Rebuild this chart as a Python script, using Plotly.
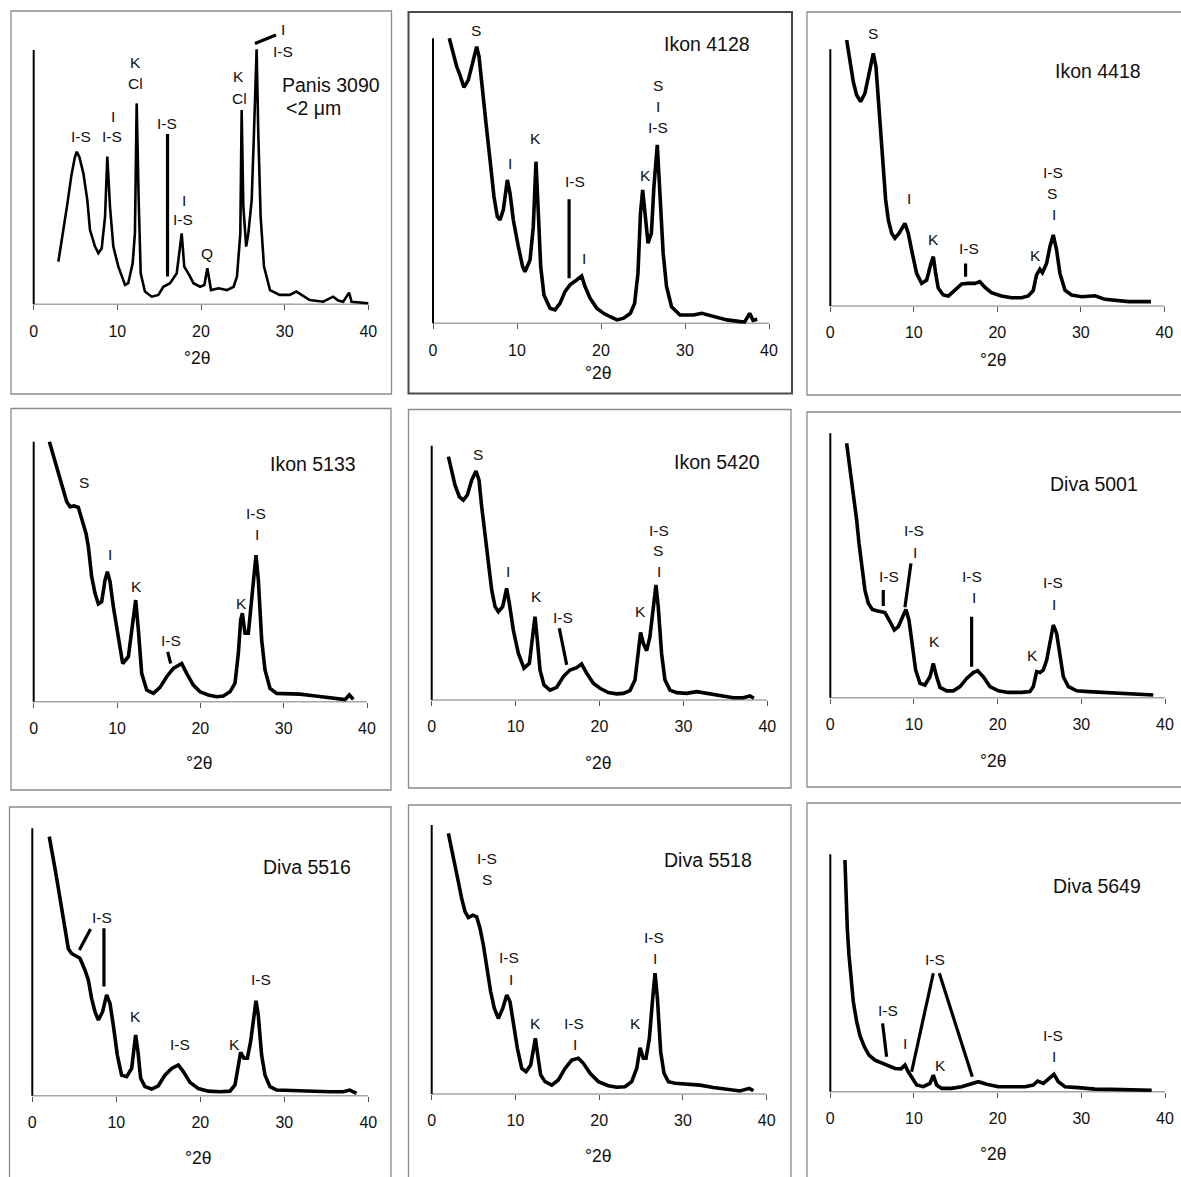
import plotly.graph_objects as go

# ---------------- data (relative intensity, 100 = top of the intensity axis) ----------------
tick_vals = [0, 10, 20, 30, 40]
tick_text = ["0", "10", "20", "30", "40"]
axis_title = "°2θ"

sample_names = ["Panis 3090", "Ikon 4128", "Ikon 4418", "Ikon 5133", "Ikon 5420",
                "Diva 5001", "Diva 5516", "Diva 5518", "Diva 5649"]
fraction_note = "<2 μm"

p1_x = [2.95, 3.55, 4.0, 4.5, 4.9, 5.14, 5.45, 5.94, 6.41, 6.73, 7.33, 7.73, 8.13, 8.53, 8.80, 9.12, 9.52, 10.12, 10.92,
        11.3, 11.83, 12.1, 12.31, 12.55, 12.79, 13.3, 14.1, 14.9, 15.5, 16.3, 17.1, 17.69, 18.0, 18.6, 19.1,
        19.9, 20.4, 20.76, 21.2, 22.1, 23.1, 23.9, 24.3, 24.7, 24.86, 25.06, 25.4, 25.66, 26.06, 26.33,
        26.65, 26.85, 27.13, 27.53, 28.25, 29.4, 30.6, 31.4, 32.0, 33.0, 34.6, 35.8, 36.4, 37.0, 37.7,
        38.0, 40.0]
p1_y = [16.8, 29.0, 39.0, 50.5, 57.5, 60.0, 58.0, 51.5, 41.0, 29.2, 22.7, 20.1, 22.0, 34.5, 58.1, 38.4, 22.7, 14.8, 7.6,
        8.3, 16.1, 27.9, 79.0, 41.0, 12.2, 5.0, 3.0, 3.7, 6.9, 8.3, 12.2, 27.9, 14.8, 11.5, 8.3,
        6.9, 7.6, 14.2, 5.6, 6.3, 5.6, 6.9, 10.9, 27.9, 76.4, 38.4, 22.7, 27.9, 41.0, 67.2,
        100.3, 67.2, 34.5, 14.8, 5.6, 3.7, 3.7, 5.0, 3.7, 1.7, 1.0, 3.0, 1.5, 1.0, 4.6,
        1.0, 0.4]

p2_x = [1.94, 2.42, 2.82, 3.21, 3.69, 4.21, 4.72, 5.2, 5.48, 5.79, 6.31, 6.79, 7.26, 7.66, 7.98, 8.37,
        8.85, 9.17, 9.56, 10.16, 10.67, 10.95, 11.55, 11.94, 12.26, 12.54, 12.82, 13.21, 13.93, 14.52,
        15.12, 15.71, 16.31, 17.1, 17.7, 18.1, 18.7, 19.5, 20.3, 21.1, 21.9, 22.7, 23.5, 24.0, 24.4,
        24.7, 24.96, 25.24, 25.6, 26.0, 26.3, 26.7, 27.0, 27.4, 27.8, 28.4, 29.4, 31.0, 32.0, 33.4,
        35.0, 36.6, 37.1, 37.7, 38.1, 38.6]
p2_y = [100.0, 94.7, 90.1, 87.1, 82.8, 85.4, 91.2, 97.1, 93.6, 84.2, 70.2, 57.3, 44.4, 37.4, 36.3, 39.8,
        50.3, 45.6, 36.3, 26.9, 19.9, 18.1, 22.2, 33.9, 56.7, 38.6, 19.9, 9.9, 5.3, 4.7,
        7.0, 11.1, 13.5, 15.2, 16.6, 12.9, 8.8, 5.3, 3.5, 2.3, 1.2, 1.8, 3.5, 7.0, 17.5,
        38.6, 46.8, 38.6, 28.1, 31.6, 48.0, 62.6, 48.0, 24.6, 12.9, 5.8, 2.9, 2.9, 3.5, 2.3,
        1.2, 0.6, 0.5, 3.5, 1.0, 1.4]

p3_x = [1.96, 2.36, 2.75, 3.15, 3.63, 4.15, 4.63, 5.15, 5.47, 5.75, 6.07, 6.35, 6.63, 6.95, 7.35, 7.74,
        8.22, 8.94, 9.34, 9.82, 10.34, 10.94, 11.54, 12.06, 12.34, 12.62, 12.93, 13.53, 14.13, 14.93,
        15.73, 16.53, 17.33, 17.9, 18.5, 19.3, 20.5, 21.7, 22.9, 23.7, 24.3, 24.7, 25.1, 25.4, 25.9,
        26.3, 26.7, 27.1, 27.5, 28.1, 28.9, 30.1, 31.7, 32.9, 34.1, 35.7, 37.3, 38.4]
p3_y = [103.6, 94.5, 87.4, 82.2, 79.6, 82.9, 90.6, 98.4, 93.2, 81.6, 67.3, 54.3, 41.3, 33.5, 28.3, 26.4,
        28.3, 32.2, 28.3, 20.5, 12.7, 8.8, 10.1, 16.6, 19.2, 12.7, 6.9, 4.3, 3.9, 6.2,
        8.6, 8.8, 8.8, 9.5, 7.3, 5.2, 3.9, 3.2, 3.2, 3.9, 6.0, 12.1, 14.3, 13.0, 16.6,
        23.1, 27.7, 21.8, 12.7, 6.2, 4.3, 3.6, 4.0, 2.6, 2.1, 1.7, 1.7, 1.7]

p4_x = [1.88, 2.36, 2.96, 3.56, 3.96, 4.36, 4.84, 5.36, 5.76, 6.28, 6.56, 6.96, 7.36, 7.76, 8.16, 8.56,
        8.84, 9.16, 9.56, 10.16, 10.68, 11.36, 11.88, 12.24, 12.56, 12.96, 13.56, 14.36, 15.16, 15.96,
        16.76, 17.76, 18.36, 19.16, 19.96, 20.96, 21.96, 22.76, 23.56, 24.16, 24.56, 24.84, 25.04,
        25.36, 25.76, 26.16, 26.44, 26.68, 26.96, 27.36, 27.76, 28.36, 29.16, 30.76, 31.96, 33.56,
        35.16, 36.76, 37.36, 37.88, 38.36]
p4_y = [100.0, 94.9, 88.5, 81.4, 76.9, 75.0, 75.3, 74.7, 69.9, 64.7, 59.6, 48.1, 41.7, 37.6, 38.5, 46.8,
        50.0, 46.2, 36.5, 23.7, 14.7, 17.3, 28.8, 39.1, 27.6, 10.9, 4.5, 3.2, 5.5, 9.6,
        12.8, 14.7, 10.9, 6.4, 3.8, 2.6, 1.9, 2.2, 3.8, 7.1, 18.6, 31.4, 34.0,
        26.3, 26.3, 39.1, 49.4, 56.4, 46.8, 23.7, 12.2, 5.1, 3.2, 3.2, 2.9, 2.3,
        1.7, 0.9, 0.8, 2.6, 0.9]

p5_x = [1.99, 2.38, 2.78, 3.3, 3.77, 4.25, 4.77, 5.28, 5.64, 5.96, 6.35, 6.75, 7.15, 7.55, 7.94, 8.46,
        8.93, 9.25, 9.73, 10.33, 11.0, 11.64, 12.03, 12.31, 12.59, 12.91, 13.38, 14.1, 14.9, 15.7,
        16.48, 17.28, 17.87, 18.47, 19.26, 20.06, 21.05, 22.04, 22.84, 23.63, 24.23, 24.63, 24.9,
        25.22, 25.62, 26.01, 26.41, 26.73, 27.0, 27.4, 27.8, 28.4, 29.19, 30.38, 31.58, 32.77,
        34.36, 35.95, 37.14, 37.93, 38.4]
p5_y = [95.7, 90.4, 84.5, 79.9, 78.6, 80.6, 86.5, 90.0, 86.5, 76.0, 65.5, 53.7, 43.3, 36.7, 34.7, 36.7,
        43.9, 38.0, 27.5, 18.3, 12.5, 14.4, 26.2, 32.8, 23.6, 11.8, 5.9, 3.9, 5.0, 9.2,
        11.8, 12.7, 14.2, 10.5, 6.6, 4.6, 2.9, 2.4, 2.6, 3.7, 7.9, 18.3, 26.6,
        22.3, 19.4, 24.9, 38.0, 45.2, 36.7, 18.3, 7.9, 3.9, 2.9, 2.6, 3.3, 2.6,
        1.6, 0.9, 0.9, 1.6, 0.7]

p6_x = [1.95, 2.23, 2.55, 2.87, 3.15, 3.43, 3.75, 4.14, 4.54, 5.02, 5.54, 6.06, 6.53, 7.13, 7.65, 8.13,
        8.61, 9.04, 9.4, 9.8, 10.2, 10.72, 11.31, 11.91, 12.31, 12.71, 13.11, 13.9, 14.7, 15.5,
        16.3, 17.09, 17.61, 18.29, 19.08, 20.08, 21.27, 22.87, 23.86, 24.26, 24.66, 25.06, 25.46,
        25.86, 26.25, 26.65, 27.05, 27.45, 27.85, 28.45, 29.44, 30.84, 32.43, 34.02, 35.62, 37.21, 38.6]
p6_y = [96.2, 89.9, 82.3, 74.8, 67.2, 58.4, 49.6, 40.7, 35.7, 33.4, 32.9, 32.5, 32.2, 28.8, 25.6, 26.9,
        30.6, 33.4, 29.4, 19.3, 10.5, 5.4, 4.8, 7.9, 13.0, 7.9, 3.9, 2.6, 2.6, 4.2,
        7.3, 9.5, 10.2, 7.9, 4.2, 2.6, 2.0, 2.0, 2.3, 4.2, 9.8, 9.5, 10.5,
        14.2, 21.8, 27.5, 24.3, 15.5, 7.9, 4.2, 2.6, 2.3, 2.0, 1.9, 1.6, 1.4, 1.0]

p7_x = [2.02, 2.3, 2.7, 3.1, 3.49, 3.89, 4.29, 4.68, 5.2, 5.67, 6.27, 6.67, 7.06, 7.46, 7.86, 8.37,
        8.85, 9.25, 9.64, 10.12, 10.63, 11.23, 11.83, 12.1, 12.3, 12.58, 12.9, 13.41, 14.21, 15.0,
        15.79, 16.59, 17.38, 17.98, 18.77, 19.76, 20.95, 22.34, 23.53, 24.13, 24.52, 24.8, 25.2,
        25.6, 25.99, 26.31, 26.63, 26.9, 27.3, 27.7, 28.29, 29.09, 30.67, 32.26, 33.85, 35.44,
        37.02, 37.8, 38.6]
p7_y = [96.9, 91.3, 85.0, 77.6, 70.1, 62.6, 54.9, 53.2, 52.4, 51.4, 47.0, 43.3, 36.4, 31.4, 28.3, 31.4,
        37.7, 34.5, 26.4, 15.2, 7.7, 7.1, 10.2, 16.5, 22.7, 16.5, 6.5, 3.4, 2.5, 3.7,
        7.7, 10.2, 11.5, 9.0, 5.0, 2.7, 1.7, 1.5, 1.7, 4.0, 11.5, 16.2, 14.0,
        14.0, 20.2, 27.7, 35.5, 30.2, 15.2, 7.7, 3.4, 2.1, 1.9, 1.7, 1.7, 1.5,
        1.5, 2.1, 0.9]

p8_x = [1.99, 2.39, 2.79, 3.18, 3.58, 3.98, 4.38, 4.9, 5.37, 5.77, 6.17, 6.57, 7.04, 7.48, 7.96, 8.48,
        8.96, 9.35, 9.75, 10.23, 10.75, 11.26, 11.82, 12.14, 12.38, 12.66, 13.01, 13.53, 14.33, 15.12,
        15.92, 16.72, 17.51, 18.11, 18.91, 19.9, 21.1, 22.09, 23.08, 23.88, 24.48, 24.88, 25.27,
        25.59, 25.99, 26.35, 26.67, 26.95, 27.34, 27.74, 28.26, 29.05, 30.45, 32.04, 33.63, 34.83,
        36.02, 36.82, 37.93, 38.41]
p8_y = [96.9, 91.3, 85.1, 78.9, 72.7, 67.8, 65.6, 66.5, 65.9, 61.6, 55.4, 46.7, 38.0, 31.8, 28.1, 31.8,
        36.8, 34.3, 26.9, 17.0, 9.5, 8.3, 10.8, 17.0, 20.7, 14.5, 7.1, 4.6, 3.3, 5.2,
        9.5, 12.6, 13.3, 11.4, 7.7, 4.6, 3.1, 2.5, 2.7, 4.6, 9.5, 17.2, 13.3,
        13.3, 20.7, 34.3, 44.9, 35.6, 15.7, 7.7, 4.6, 4.0, 3.7, 3.3, 2.4, 1.9,
        1.5, 1.1, 2.1, 1.2]

p9_x = [1.75, 1.87, 2.03, 2.23, 2.47, 2.75, 3.15, 3.55, 4.06, 4.62, 5.34, 6.14, 6.93, 7.73, 8.45, 8.92,
        9.32, 9.8, 10.32, 11.12, 11.91, 12.31, 12.71, 13.31, 14.5, 15.7, 16.69, 17.69, 18.69, 20.08,
        21.67, 23.27, 24.26, 24.78, 25.46, 26.25, 26.73, 27.25, 28.05, 29.64, 31.63, 33.63, 35.62,
        37.21, 38.41]
p9_y = [97.6, 82.9, 68.8, 57.6, 46.3, 37.9, 29.5, 23.6, 19.0, 15.4, 13.3, 12.2, 11.0, 9.8, 9.6, 11.2,
        8.4, 5.6, 2.8, 2.1, 3.5, 7.0, 2.8, 1.4, 1.4, 2.1, 3.1, 4.2, 3.1, 2.1,
        2.1, 2.1, 2.8, 4.5, 3.5, 5.6, 7.3, 4.2, 2.1, 1.7, 1.1, 1.0, 0.7,
        0.7, 0.6]

# peak labels: (2theta, intensity, text)
p1_labels = [(5.62, 65.9, "I-S"), (9.52, 74.0, "I"), (9.4, 65.9, "I-S"), (12.11, 95.0, "K"),
             (12.11, 86.9, "Cl"), (15.9, 71.2, "I-S"), (17.97, 41.0, "I"), (17.8, 33.2, "I-S"),
             (20.76, 20.1, "Q"), (24.5, 89.5, "K"), (24.66, 81.0, "Cl"), (29.76, 107.9, "I"),
             (29.76, 99.3, "I-S")]
p2_labels = [(5.12, 102.7, "S"), (12.26, 64.9, "K"), (9.17, 56.1, "I"), (16.9, 49.7, "I-S"),
             (18.0, 22.8, "I"), (25.3, 52.0, "K"), (26.75, 83.3, "S"), (26.8, 76.0, "I"),
             (26.75, 68.8, "I-S")]
p3_labels = [(5.15, 106.2, "S"), (9.42, 41.9, "I"), (12.34, 26.0, "K"), (16.65, 22.5, "I-S"),
             (24.6, 19.6, "K"), (26.7, 52.1, "I-S"), (26.6, 43.9, "S"), (26.75, 35.7, "I")]
p4_labels = [(6.08, 84.2, "S"), (9.16, 56.8, "I"), (12.36, 44.2, "K"), (16.48, 23.7, "I-S"),
             (24.9, 37.8, "K"), (26.68, 72.4, "I-S"), (26.76, 64.4, "I")]
p5_labels = [(5.56, 96.7, "S"), (9.14, 50.5, "I"), (12.51, 40.6, "K"), (15.69, 32.5, "I-S"),
             (24.9, 34.7, "K"), (27.05, 66.8, "I-S"), (26.93, 58.7, "S"), (27.05, 50.5, "I")]
p6_labels = [(7.01, 45.8, "I-S"), (10.0, 63.2, "I-S"), (10.12, 54.9, "I"), (12.51, 21.2, "K"),
             (16.97, 45.8, "I-S"), (17.21, 37.8, "I"), (24.18, 16.1, "K"), (26.65, 43.5, "I-S"),
             (26.69, 35.4, "I")]
p7_labels = [(8.25, 66.7, "I-S"), (12.3, 29.8, "K"), (17.58, 19.2, "I-S"), (24.05, 19.2, "K"),
             (27.22, 43.6, "I-S")]
p8_labels = [(6.65, 87.6, "I-S"), (6.65, 79.6, "S"), (9.27, 50.7, "I-S"), (9.43, 42.6, "I"),
             (12.34, 26.3, "K"), (16.99, 26.3, "I-S"), (17.11, 18.5, "I"), (24.28, 26.3, "K"),
             (26.59, 58.1, "I-S"), (26.71, 50.4, "I")]
p9_labels = [(6.93, 34.0, "I-S"), (8.92, 20.4, "I"), (12.51, 55.5, "I-S"), (13.11, 11.2, "K"),
             (26.65, 23.6, "I-S"), (26.69, 14.7, "I")]

# leader lines from labels to peaks: (x0, y0, x1, y1)
p1_leaders = [(16.0, 67.0, 16.0, 10.9), (26.45, 102.6, 28.96, 105.9)]
p2_leaders = [(16.2, 43.5, 16.2, 15.8)]
p3_leaders = [(16.2, 16.6, 16.2, 11.4)]
p4_leaders = [(16.08, 19.2, 16.44, 14.7)]
p5_leaders = [(15.21, 28.2, 16.09, 13.8)]
p6_leaders = [(6.33, 40.7, 6.33, 34.7), (9.64, 50.8, 8.92, 34.2), (16.89, 30.6, 16.89, 11.7)]
p7_leaders = [(6.94, 62.3, 5.6, 54.5), (8.53, 62.6, 8.53, 40.8)]
p8_leaders = []
p9_leaders = [(6.25, 28.8, 6.73, 14.7), (12.31, 49.9, 9.72, 8.4), (13.03, 49.9, 16.97, 6.3)]

# sample-name positions (2theta, intensity)
name_pos = [(35.5, 86.2), (32.6, 97.9), (32.0, 91.7), (33.56, 91.4), (34.04, 93.4),
            (31.5, 80.8), (32.74, 85.7), (33.03, 87.0), (31.83, 86.8)]
note_pos = (33.4, 77.1)

xs = [p1_x, p2_x, p3_x, p4_x, p5_x, p6_x, p7_x, p8_x, p9_x]
ys = [p1_y, p2_y, p3_y, p4_y, p5_y, p6_y, p7_y, p8_y, p9_y]
labels = [p1_labels, p2_labels, p3_labels, p4_labels, p5_labels, p6_labels, p7_labels, p8_labels, p9_labels]
leaders = [p1_leaders, p2_leaders, p3_leaders, p4_leaders, p5_leaders, p6_leaders, p7_leaders,
           p8_leaders, p9_leaders]

# ---------------- layout geometry (pixels) ----------------
W, H = 1181, 1177
# x of 0, x of 40, y of baseline, y of top of intensity axis
geom = [(33.7, 368.3, 304.3, 50.0), (433.0, 769.0, 323.3, 38.3), (830.3, 1164.3, 306.0, 49.3),
        (33.7, 367.0, 701.7, 441.7), (431.7, 767.3, 700.0, 445.7), (830.3, 1165.0, 697.7, 433.3),
        (32.3, 368.3, 1095.7, 828.3), (431.7, 766.7, 1094.0, 825.0), (830.3, 1165.0, 1091.7, 854.3)]
# panel frames: left, top, right, bottom, color, width
frames = [(11, 11, 391.5, 394, "#8c8c8c", 1.3), (408.5, 12, 792, 393.5, "#4a4a4a", 2.0),
          (807, 12, 1190, 395, "#8c8c8c", 1.3), (11, 408.5, 391, 790, "#8c8c8c", 1.3),
          (408.5, 409.5, 791, 788, "#8c8c8c", 1.3), (807, 412, 1190, 787, "#8c8c8c", 1.3),
          (9.5, 807, 391, 1190, "#8c8c8c", 1.3), (408.5, 805, 791, 1190, "#8c8c8c", 1.3),
          (807, 803, 1190, 1190, "#8c8c8c", 1.3)]
title_px = [(197, 358), (598, 373), (993, 360), (199, 763.3), (598.3, 763.3), (993.3, 760.7),
            (198.3, 1157.7), (598.3, 1155.7), (993.3, 1154.3)]

FONT = "Liberation Sans, Arial, sans-serif"
TXT = "#111111"

fig = go.Figure()
layout = {}
shapes = []
annotations = []

for i in range(9):
    n = i + 1
    xa, ya = ("x" if n == 1 else f"x{n}"), ("y" if n == 1 else f"y{n}")
    x0p, x40p, basep, topp = geom[i]
    sx = (x40p - x0p) / 40.0
    sy = (basep - topp) / 100.0
    padx, padb, padt = 10.0, 6.0, 32.0
    xdom = [(x0p - padx) / W, (x40p + padx) / W]
    ydom = [1 - (basep + padb) / H, 1 - (topp - padt) / H]
    xr = [-padx / sx, 40 + padx / sx]
    yr = [-padb / sy, 100 + padt / sy]

    fig.add_trace(go.Scatter(x=xs[i], y=ys[i], mode="lines",
                             line=dict(color="black", width=2.6 if n == 1 else 3.6),
                             xaxis=xa, yaxis=ya, hoverinfo="skip", showlegend=False))

    layout["xaxis" if n == 1 else f"xaxis{n}"] = dict(
        domain=xdom, range=xr, anchor="free", position=1 - basep / H,
        tickmode="array", tickvals=tick_vals, ticktext=tick_text,
        ticks="outside", ticklen=5, tickwidth=1, tickcolor="#555",
        showline=False, showgrid=False, zeroline=False, fixedrange=True,
        tickfont=dict(family=FONT, size=16, color=TXT), ticklabelstandoff=7)
    layout["yaxis" if n == 1 else f"yaxis{n}"] = dict(
        domain=ydom, range=yr, anchor=xa, visible=False, fixedrange=True)

    # baseline (x axis) and intensity axis
    shapes.append(dict(type="line", xref=xa, yref=ya, x0=0, x1=40, y0=0, y1=0,
                       line=dict(color="#a6a6a6", width=1.6), layer="below"))
    shapes.append(dict(type="line", xref=xa, yref=ya, x0=0, x1=0, y0=0, y1=100,
                       line=dict(color="black", width=2.0)))

    # panel frame
    l, t, r, b, c, w = frames[i]
    shapes.append(dict(type="rect", xref="paper", yref="paper", x0=l / W, x1=r / W,
                       y0=1 - b / H, y1=1 - t / H, line=dict(color=c, width=w), layer="below"))

    for (lx0, ly0, lx1, ly1) in leaders[i]:
        shapes.append(dict(type="line", xref=xa, yref=ya, x0=lx0, y0=ly0, x1=lx1, y1=ly1,
                           line=dict(color="black", width=3.2)))

    for (lx, ly, txt) in labels[i]:
        annotations.append(dict(x=lx, y=ly, xref=xa, yref=ya, text=txt, showarrow=False,
                                xanchor="center", yanchor="middle",
                                font=dict(family=FONT, size=15.5, color=TXT)))

    nx, ny = name_pos[i]
    annotations.append(dict(x=nx, y=ny, xref=xa, yref=ya, text=sample_names[i], showarrow=False,
                            xanchor="center", yanchor="middle",
                            font=dict(family=FONT, size=19.5, color=TXT)))
    if n == 1:
        annotations.append(dict(x=note_pos[0], y=note_pos[1], xref=xa, yref=ya, text=fraction_note,
                                showarrow=False, xanchor="center", yanchor="middle",
                                font=dict(family=FONT, size=19.5, color=TXT)))

    tx, ty = title_px[i]
    annotations.append(dict(x=tx / W, y=1 - ty / H, xref="paper", yref="paper", text=axis_title,
                            showarrow=False, xanchor="center", yanchor="middle",
                            font=dict(family=FONT, size=17.5, color=TXT)))

fig.update_layout(width=W, height=H, margin=dict(l=0, r=0, t=0, b=0),
                  paper_bgcolor="white", plot_bgcolor="rgba(0,0,0,0)",
                  shapes=shapes, annotations=annotations, showlegend=False, **layout)

fig.write_html("out.html", include_plotlyjs=True, full_html=True,
               config={"displayModeBar": False, "staticPlot": True},
               post_script="document.body.style.margin='0px';document.body.style.padding='0px';")
